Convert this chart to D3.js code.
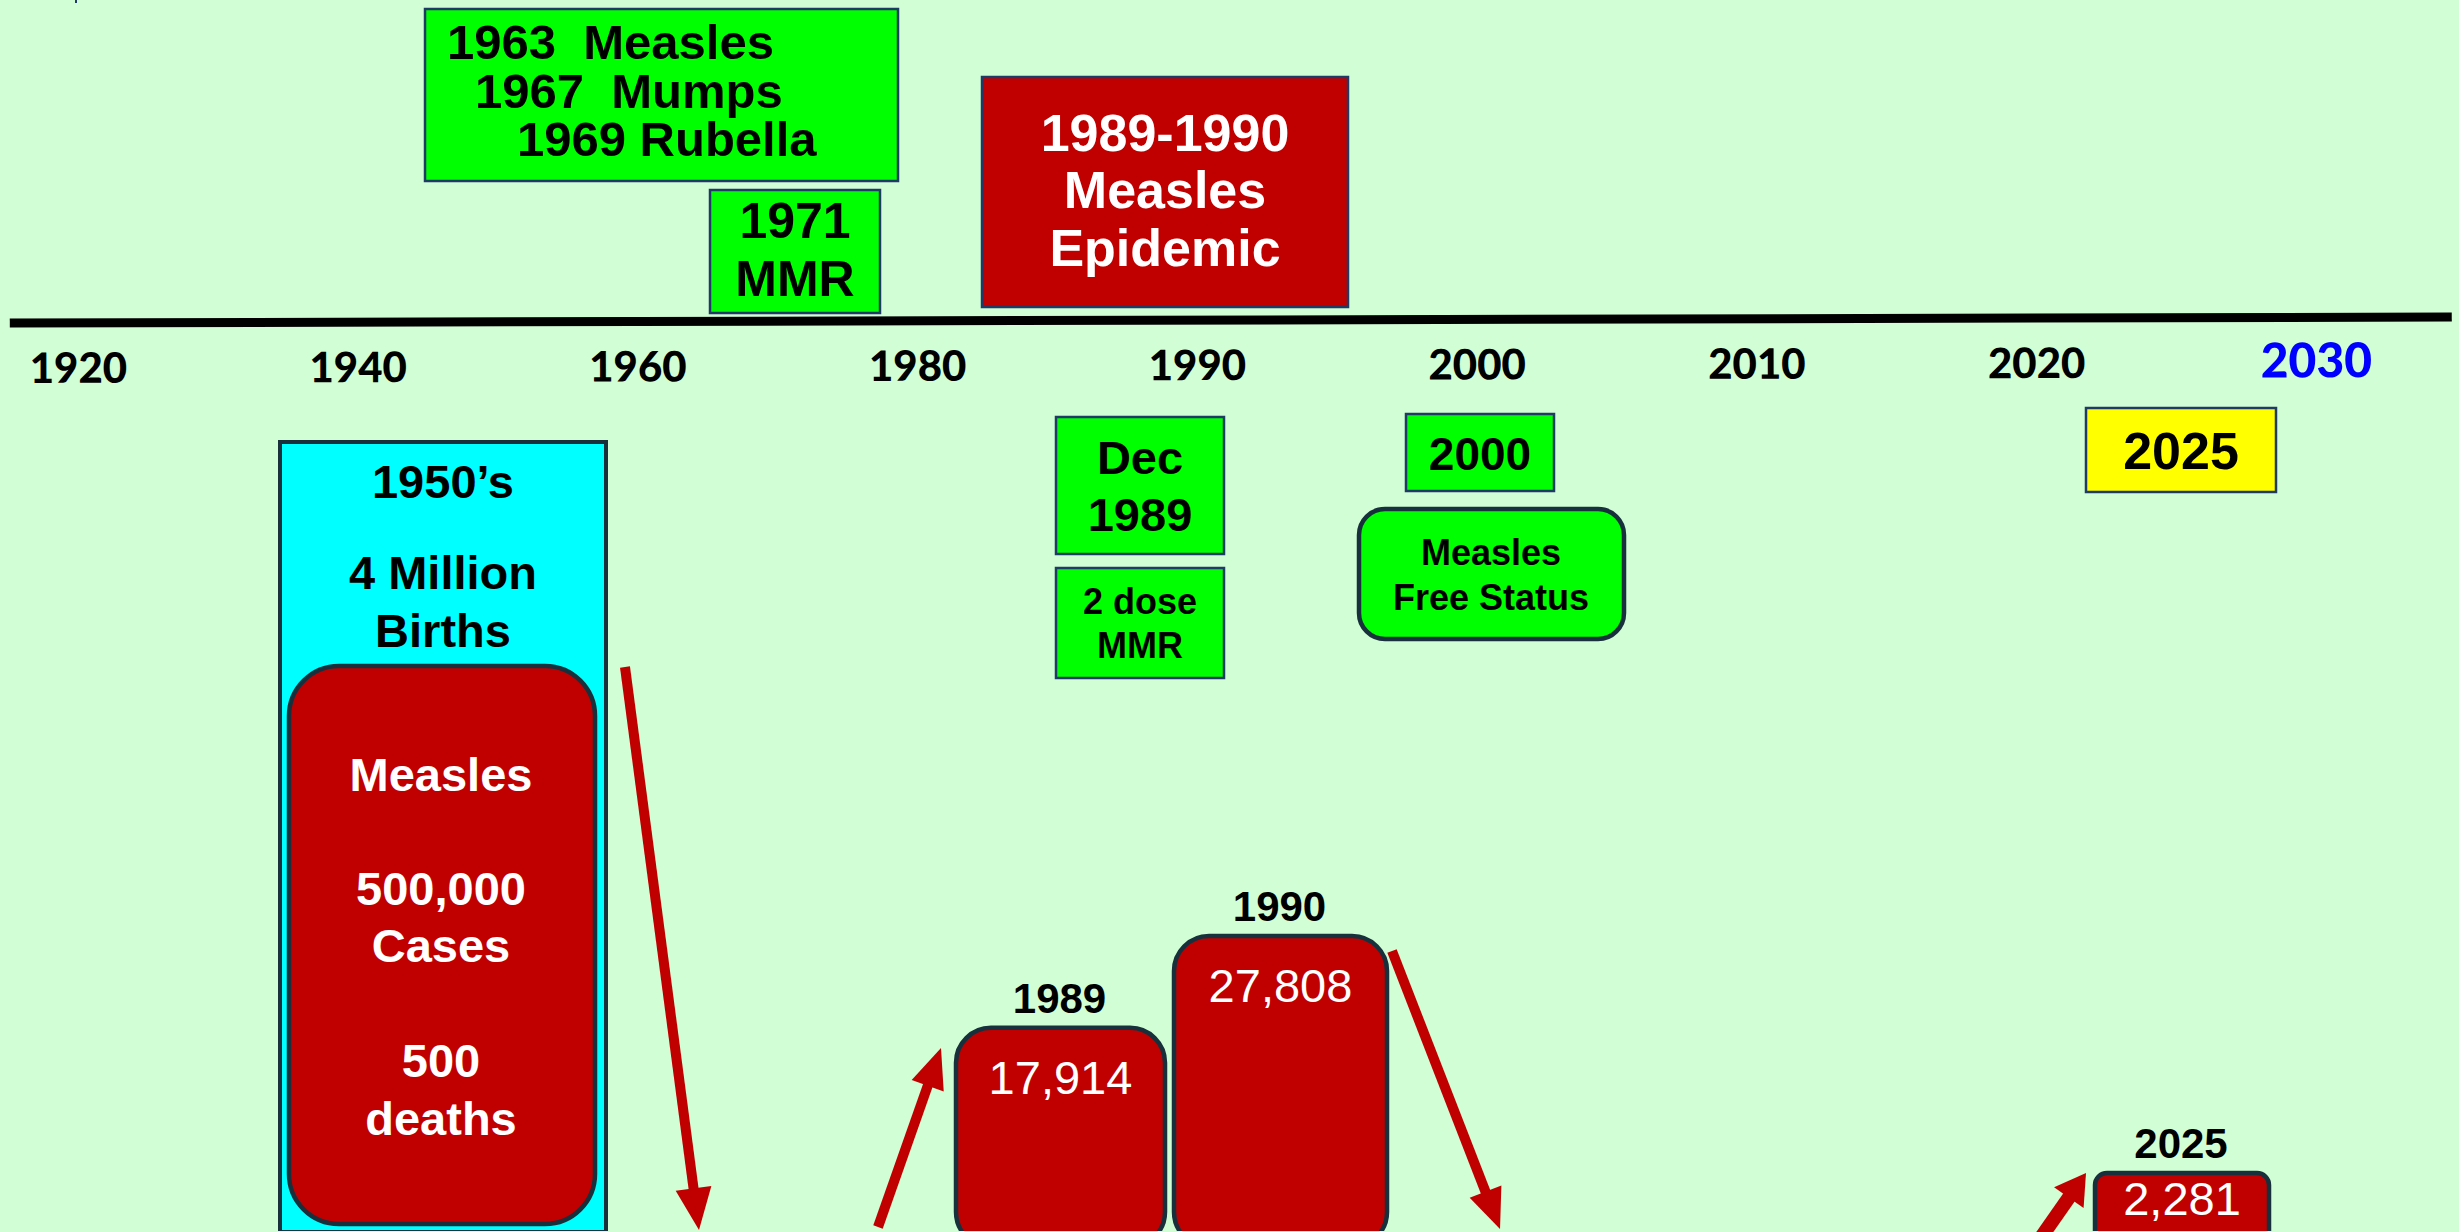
<!DOCTYPE html>
<html>
<head>
<meta charset="utf-8">
<script src="https://cdn.jsdelivr.net/npm/d3@7"></script>
<style>
  html, body { margin: 0; padding: 0; background: #d2fed5; overflow: hidden; }
  svg { display: block; }
  text { font-family: "Liberation Sans", Arial, sans-serif; }
</style>
</head>
<body>
<svg id="chart" width="2459" height="1232"></svg>
<script>
// ---------------- data ----------------
const tickLabels = ["1920", "1940", "1960", "1980", "1990", "2000", "2010", "2020", "2030"];
const highlightTick = "2030";

const vaccineLines = ["1963  Measles", "1967  Mumps", "1969 Rubella"];
const mmrLines = ["1971", "MMR"];
const epidemicLines = ["1989-1990", "Measles", "Epidemic"];
const decLines = ["Dec", "1989"];
const doseLines = ["2 dose", "MMR"];
const statusYear = ["2000"];
const statusLines = ["Measles", "Free Status"];
const currentYear = ["2025"];

const fiftiesHeader = ["1950\u2019s", "4 Million", "Births"];
const fiftiesMeasles = ["Measles", "500,000", "Cases", "500", "deaths"];

const caseYears = ["1989", "1990", "2025"];
const caseCounts = [17914, 27808, 2281];

// ---------------- layout ----------------
const W = 2459, H = 1232;
const svg = d3.select("#chart");
svg.append("rect").attr("width", W).attr("height", H).attr("fill", "#d2fed5");

const C = {
  green: "#00ff00", red: "#c00000", cyan: "#00ffff", yellow: "#ffff00",
  thin: "#1f3a64", thick: "#17303b"
};

const x = d3.scalePoint().domain(tickLabels).range([77, 2315]);

// timeline axis (slightly tilted like the original)
const axisG = svg.append("g").attr("transform", "rotate(-0.14)");
axisG.append("line")
  .attr("x1", 9).attr("x2", 2451).attr("y1", 323).attr("y2", 323)
  .attr("stroke", "#000").attr("stroke-width", 9);

const ax = axisG.append("g").attr("transform", "translate(0,383)")
  .call(d3.axisBottom(x).tickSize(0).tickPadding(0));
ax.select(".domain").remove();
ax.selectAll("text")
  .attr("y", 0).attr("dy", 0)
  .style("font-family", "Lato, 'Open Sans', sans-serif")
  .style("font-weight", 900)
  .style("font-size", d => d === highlightTick ? "48px" : "42px")
  .attr("fill", d => d === highlightTick ? "#0000ff" : "#000");

// tiny mark at top-left
svg.append("line").attr("x1", 76).attr("x2", 76).attr("y1", 0).attr("y2", 3)
  .attr("stroke", "#1f3a64").attr("stroke-width", 2);

function box(o) {
  const g = svg.append("g");
  g.append("rect")
    .attr("x", o.x).attr("y", o.y).attr("width", o.w).attr("height", o.h)
    .attr("rx", o.r || 0).attr("ry", o.r || 0)
    .attr("fill", o.fill).attr("stroke", o.stroke || C.thin)
    .attr("stroke-width", o.sw || 2.5);
  if (o.lines) {
    g.selectAll("text.l").data(o.lines).join("text")
      .attr("class", "l")
      .attr("x", (d, i) => o.tx ? o.tx[i] : o.cx)
      .attr("y", (d, i) => o.base[i])
      .attr("text-anchor", o.tx ? "start" : "middle")
      .style("white-space", "pre")
      .style("font-weight", o.weight || 700)
      .style("font-size", o.fs + "px")
      .attr("fill", o.color || "#000")
      .text(d => d);
  }
  return g;
}

// upper boxes
box({ x: 425, y: 9, w: 473, h: 172, fill: C.green, lines: vaccineLines,
      tx: [447, 475, 517], base: [59, 108, 156], fs: 49 });
box({ x: 710, y: 190, w: 170, h: 123, fill: C.green, lines: mmrLines,
      cx: 795, base: [238, 296], fs: 50 });
box({ x: 982, y: 77, w: 366, h: 230, fill: C.red, lines: epidemicLines,
      cx: 1165, base: [151, 208, 266], fs: 52, color: "#fff" });

// lower event boxes
box({ x: 1056, y: 417, w: 168, h: 137, fill: C.green, lines: decLines,
      cx: 1140, base: [474, 531], fs: 47 });
box({ x: 1056, y: 568, w: 168, h: 110, fill: C.green, lines: doseLines,
      cx: 1140, base: [614, 658], fs: 36 });
box({ x: 1406, y: 414, w: 148, h: 77, fill: C.green, lines: statusYear,
      cx: 1480, base: [470], fs: 46 });
box({ x: 1359, y: 509, w: 265, h: 130, r: 26, fill: C.green, stroke: C.thick, sw: 4.5,
      lines: statusLines, cx: 1491, base: [565, 610], fs: 36 });
box({ x: 2086, y: 408, w: 190, h: 84, fill: C.yellow, lines: currentYear,
      cx: 2181, base: [469], fs: 52 });

// 1950's block
box({ x: 280, y: 442, w: 326, h: 790, fill: C.cyan, stroke: C.thick, sw: 4,
      lines: fiftiesHeader, cx: 443, base: [498, 589, 647], fs: 47 });
box({ x: 289, y: 666, w: 306, h: 558, r: 50, fill: C.red, stroke: C.thick, sw: 4.5,
      lines: fiftiesMeasles, cx: 441, base: [791, 905, 962, 1077, 1135], fs: 47, color: "#fff" });

// case count boxes
const bottom = 1227;
const caseX = { "1989": [956, 209, 35], "1990": [1174, 213, 35], "2025": [2095, 174, 12] };
const h = d3.scaleLinear().domain([d3.min(caseCounts), d3.max(caseCounts)]).range([54, 291]);
const fmt = d3.format(",");
const cg = svg.append("g");
caseYears.forEach((yr, i) => {
  const [bx, bw, br] = caseX[yr];
  const bh = h(caseCounts[i]);
  const top = bottom - bh;
  cg.append("rect").attr("x", bx).attr("y", top).attr("width", bw).attr("height", bh + 20)
    .attr("rx", br).attr("ry", br)
    .attr("fill", C.red).attr("stroke", C.thick).attr("stroke-width", 4.5);
  cg.append("text").attr("x", bx + bw / 2).attr("y", top + Math.min(66, bh - 12))
    .attr("text-anchor", "middle").style("font-size", "47px").style("font-weight", 400)
    .attr("fill", "#fff").text(fmt(caseCounts[i]));
  cg.append("text").attr("x", bx + bw / 2 - 1).attr("y", top - 15)
    .attr("text-anchor", "middle").style("font-size", "42px").style("font-weight", 700)
    .attr("fill", "#000").text(yr);
});
// bottom edge of case boxes runs off the page
svg.append("rect").attr("x", 0).attr("y", 1231).attr("width", W).attr("height", 10).attr("fill", "#d2fed5");

// arrows
function arrow(x1, y1, x2, y2, sw, hl, hw) {
  const dx = x2 - x1, dy = y2 - y1, L = Math.hypot(dx, dy);
  const ux = dx / L, uy = dy / L, px = -uy, py = ux;
  const bx = x2 - ux * hl, by = y2 - uy * hl;
  svg.append("line").attr("x1", x1).attr("y1", y1).attr("x2", bx + ux * 2).attr("y2", by + uy * 2)
    .attr("stroke", C.red).attr("stroke-width", sw);
  svg.append("path")
    .attr("d", `M${x2},${y2}L${bx + px * hw},${by + py * hw}L${bx - px * hw},${by - py * hw}Z`)
    .attr("fill", C.red);
}
arrow(625, 667, 699, 1230, 10, 42, 18);
arrow(878, 1227, 941, 1048, 10, 40, 17);
arrow(1392, 951, 1500, 1229, 10, 40, 17);
arrow(2042, 1236, 2086, 1173, 14, 30, 18);
</script>
</body>
</html>
